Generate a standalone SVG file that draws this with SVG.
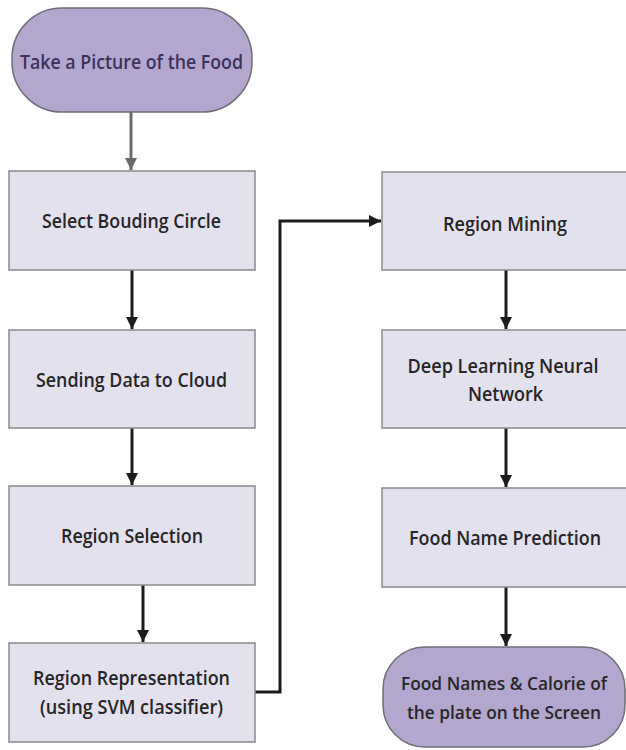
<svg xmlns="http://www.w3.org/2000/svg" width="626" height="750" viewBox="0 0 626 750">
<style>
.box{fill:#e4e1ef;stroke:#8a8a8a;stroke-width:1.5}
.pill{fill:#b4a7cf;stroke:#6e6e78;stroke-width:1.5}
.t{font-family:"Open Sans","Liberation Sans",sans-serif;font-weight:600;font-size:20px;fill:#262626;text-anchor:middle}
.ts{font-size:18.5px}
.tp{fill:#3d3158}
.c{fill:none;stroke:#1c1c1c;stroke-width:3}
.cg{fill:none;stroke:#6a6a6a;stroke-width:3}
</style>
<defs>
<marker id="ah" markerWidth="12" markerHeight="12" viewBox="0 0 12 12" refX="12" refY="6" orient="auto" markerUnits="userSpaceOnUse">
<path d="M0,0 L12,6 L0,12 Z" fill="#1c1c1c"/>
</marker>
<marker id="ahg" markerWidth="12" markerHeight="12" viewBox="0 0 12 12" refX="12" refY="6" orient="auto" markerUnits="userSpaceOnUse">
<path d="M0,0 L12,6 L0,12 Z" fill="#6a6a6a"/>
</marker>
</defs>
<rect width="626" height="750" fill="#ffffff"/>
<g id="connectors">
<line class="cg" x1="131" y1="112" x2="131" y2="170" marker-end="url(#ahg)"/>
<line class="c" x1="132" y1="270" x2="132" y2="329" marker-end="url(#ah)"/>
<line class="c" x1="132" y1="428" x2="132" y2="485" marker-end="url(#ah)"/>
<line class="c" x1="143" y1="585" x2="143" y2="642" marker-end="url(#ah)"/>
<polyline class="c" points="255,692 280,692 280,221 381,221" marker-end="url(#ah)"/>
<line class="c" x1="506" y1="270" x2="506" y2="329" marker-end="url(#ah)"/>
<line class="c" x1="506" y1="428" x2="506" y2="487" marker-end="url(#ah)"/>
<line class="c" x1="506" y1="587" x2="506" y2="646" marker-end="url(#ah)"/>
</g>
<g id="n_take_picture">
<rect class="pill" x="12" y="8" width="240" height="104" rx="50" ry="50"/>
<text class="t tp" x="131.5" y="69" textLength="223" lengthAdjust="spacingAndGlyphs">Take a Picture of the Food</text>
</g>
<g id="n_select_bounding">
<rect class="box" x="9" y="171" width="246" height="99"/>
<text class="t" x="131.5" y="228" textLength="179" lengthAdjust="spacingAndGlyphs">Select Bouding Circle</text>
</g>
<g id="n_sending_data">
<rect class="box" x="9" y="330" width="246" height="98"/>
<text class="t" x="131.5" y="387" textLength="191" lengthAdjust="spacingAndGlyphs">Sending Data to Cloud</text>
</g>
<g id="n_region_selection">
<rect class="box" x="9" y="486" width="246" height="99"/>
<text class="t" x="132" y="543" textLength="142" lengthAdjust="spacingAndGlyphs">Region Selection</text>
</g>
<g id="n_region_representation">
<rect class="box" x="9" y="643" width="246" height="99"/>
<text class="t" x="131.5" y="685" textLength="197" lengthAdjust="spacingAndGlyphs">Region Representation</text>
<text class="t" x="131.5" y="714" textLength="183" lengthAdjust="spacingAndGlyphs">(using SVM classifier)</text>
</g>
<g id="n_region_mining">
<rect class="box" x="382" y="172" width="246" height="98"/>
<text class="t" x="505" y="231" textLength="124" lengthAdjust="spacingAndGlyphs">Region Mining</text>
</g>
<g id="n_deep_learning">
<rect class="box" x="382" y="330" width="246" height="98"/>
<text class="t" x="503" y="373" textLength="191" lengthAdjust="spacingAndGlyphs">Deep Learning Neural</text>
<text class="t" x="505.5" y="401" textLength="75" lengthAdjust="spacingAndGlyphs">Network</text>
</g>
<g id="n_food_name_prediction">
<rect class="box" x="382" y="488" width="246" height="99"/>
<text class="t" x="505" y="545" textLength="192" lengthAdjust="spacingAndGlyphs">Food Name Prediction</text>
</g>
<g id="n_food_calorie">
<rect class="pill" x="383" y="647" width="242" height="100" rx="42" ry="42"/>
<text class="t ts" x="504" y="690" textLength="206" lengthAdjust="spacingAndGlyphs">Food Names &amp; Calorie of</text>
<text class="t ts" x="504" y="719" textLength="194" lengthAdjust="spacingAndGlyphs">the plate on the Screen</text>
</g>
</svg>
